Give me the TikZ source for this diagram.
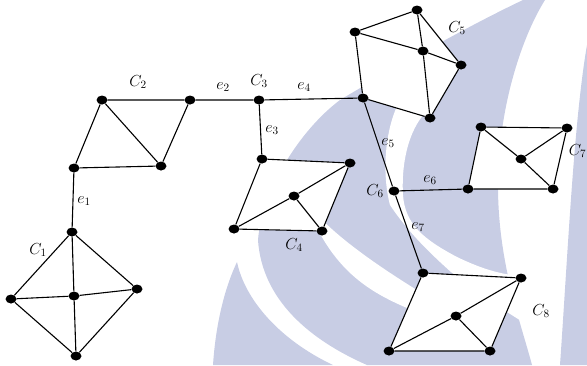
\RequirePackage{fix-cm}
\documentclass[tikz,border=0pt]{standalone}
\usetikzlibrary{shapes.geometric}
\definecolor{wmark}{RGB}{200,205,228}
\pgfdeclarelayer{wm}
\pgfdeclarelayer{faces}
\pgfsetlayers{wm,faces,main}
\begin{document}
\begin{tikzpicture}[x=1pt,y=-1pt,
  dot/.style={ellipse, fill=black, draw=none, inner sep=0pt, minimum width=11pt, minimum height=9pt},
  edge/.style={line width=1.1pt, black},
  face/.style={fill=white},
  lab/.style={font=\fontsize{16}{18}\selectfont, inner sep=0pt}]
\useasboundingbox (0,0) rectangle (587,365);
\clip (0,0) rectangle (587,365);
% ---- vertices ----
\node[dot] (c1t) at (72,232) {};
\node[dot] (c1l) at (11,299) {};
\node[dot] (c1c) at (74,296) {};
\node[dot] (c1r) at (137,289) {};
\node[dot] (c1b) at (76,356) {};
\node[dot] (c2a) at (102,100) {};
\node[dot] (c2b) at (190,100) {};
\node[dot] (c2c) at (74,168) {};
\node[dot] (c2d) at (161,166) {};
\node[dot] (c3) at (259,100) {};
\node[dot] (c4a) at (262,159) {};
\node[dot] (c4b) at (350,163) {};
\node[dot] (c4c) at (294,196) {};
\node[dot] (c4d) at (234,229) {};
\node[dot] (c4e) at (322,231) {};
\node[dot] (c5a) at (355,32) {};
\node[dot] (c5b) at (417,10) {};
\node[dot] (c5c) at (423,51) {};
\node[dot] (c5d) at (461,65) {};
\node[dot] (c5e) at (430,118) {};
\node[dot] (c5f) at (363,98) {};
\node[dot] (c6) at (394,191) {};
\node[dot] (c7a) at (481,127) {};
\node[dot] (c7b) at (567,128) {};
\node[dot] (c7c) at (521,159) {};
\node[dot] (c7d) at (468,189) {};
\node[dot] (c7e) at (553,189) {};
\node[dot] (c8a) at (423,273) {};
\node[dot] (c8b) at (521,278) {};
\node[dot] (c8c) at (456,316) {};
\node[dot] (c8d) at (389,351) {};
\node[dot] (c8e) at (490,351) {};
% ---- labels ----
\node[lab] (lC1) at (38,250) {$C_1$};
\node[lab] (le1) at (84,201) {$e_1$};
\node[lab] (lC2) at (138,82) {$C_2$};
\node[lab] (le2) at (223,87) {$e_2$};
\node[lab] (lC3) at (259,81) {$C_3$};
\node[lab] (le4) at (304,87) {$e_4$};
\node[lab] (le3) at (272,130) {$e_3$};
\node[lab] (lC4) at (294,245) {$C_4$};
\node[lab] (lC5) at (457,28) {$C_5$};
\node[lab] (le5) at (388,143) {$e_5$};
\node[lab] (le6) at (430,180) {$e_6$};
\node[lab] (lC6) at (375,191) {$C_6$};
\node[lab] (le7) at (418,227) {$e_7$};
\node[lab, anchor=east] (lC7) at (586.5,151) {$C_7$};
\node[lab] (lC8) at (541,311) {$C_8$};
% ---- watermark ----
\begin{pgfonlayer}{wm}
\fill[wmark] (213,365) .. controls (216,320) and (226,285) .. (237,262)
  .. controls (245,300) and (280,340) .. (333,365) -- cycle;
\fill[wmark] (523,0) .. controls (470,25) and (390,70) .. (340,100)
  .. controls (300,130) and (262,190) .. (258,240)
  .. controls (262,300) and (310,340) .. (367,365) -- (532,365)
  .. controls (520,320) and (497,260) .. (498,180)
  .. controls (499,110) and (520,40) .. (545,0) -- cycle;
\fill[white] (305,200) .. controls (325,228) and (365,258) .. (420,292)
  .. controls (440,305) and (455,318) .. (460,330)
  .. controls (440,322) and (425,315) .. (407,308)
  .. controls (370,292) and (330,270) .. (305,200) -- cycle;
\fill[white] (400,100) .. controls (384,130) and (382,175) .. (390,205)
  .. controls (410,235) and (435,258) .. (460,280)
  .. controls (485,298) and (515,318) .. (545,335) -- (545,275)
  .. controls (510,280) and (480,268) .. (457,257)
  .. controls (425,240) and (405,225) .. (403,195)
  .. controls (401,160) and (410,125) .. (430,108) -- cycle;
\fill[wmark] (587,45) .. controls (574,120) and (568,250) .. (560,365) -- (587,365) -- cycle;
\end{pgfonlayer}
% ---- faces ----
\begin{pgfonlayer}{faces}
\fill[face] (c1t.center) -- (c1r.center) -- (c1b.center) -- (c1l.center) -- cycle;
\fill[face] (c2a.center) -- (c2b.center) -- (c2d.center) -- (c2c.center) -- cycle;
\fill[face] (c4a.center) -- (c4b.center) -- (c4e.center) -- (c4d.center) -- cycle;
\fill[face] (c5a.center) -- (c5b.center) -- (c5d.center) -- (c5e.center) -- (c5f.center) -- cycle;
\fill[face] (c7a.center) -- (c7b.center) -- (c7e.center) -- (c7d.center) -- cycle;
\fill[face] (c8a.center) -- (c8b.center) -- (c8e.center) -- (c8d.center) -- cycle;
\end{pgfonlayer}
% ---- edges ----
\draw[edge] (c1t) -- (c1l) (c1t) -- (c1r) (c1t) -- (c1c) (c1l) -- (c1c)
  (c1c) -- (c1r) (c1c) -- (c1b) (c1l) -- (c1b) (c1r) -- (c1b);
\draw[edge] (c2a) -- (c2b) (c2a) -- (c2c) (c2c) -- (c2d) (c2b) -- (c2d) (c2a) -- (c2d);
\draw[edge] (c2c) -- (c1t) (c2b) -- (c3) (c3) -- (c4a) (c3) -- (c5f);
\draw[edge] (c4a) -- (c4b) (c4a) -- (c4d) (c4d) -- (c4e) (c4b) -- (c4e)
  (c4d) -- (c4c) (c4c) -- (c4b) (c4c) -- (c4e);
\draw[edge] (c5a) -- (c5b) (c5b) -- (c5c) (c5b) -- (c5d) (c5a) -- (c5c)
  (c5c) -- (c5d) (c5c) -- (c5e) (c5a) -- (c5f) (c5f) -- (c5e) (c5e) -- (c5d);
\draw[edge] (c5f) -- (c6) (c6) -- (c7d) (c6) -- (c8a);
\draw[edge] (c7a) -- (c7b) (c7a) -- (c7d) (c7d) -- (c7e) (c7b) -- (c7e)
  (c7a) -- (c7c) (c7c) -- (c7b) (c7c) -- (c7e);
\draw[edge] (c8a) -- (c8b) (c8a) -- (c8d) (c8d) -- (c8e) (c8b) -- (c8e)
  (c8d) -- (c8c) (c8c) -- (c8b) (c8c) -- (c8e);
\end{tikzpicture}
\end{document}
